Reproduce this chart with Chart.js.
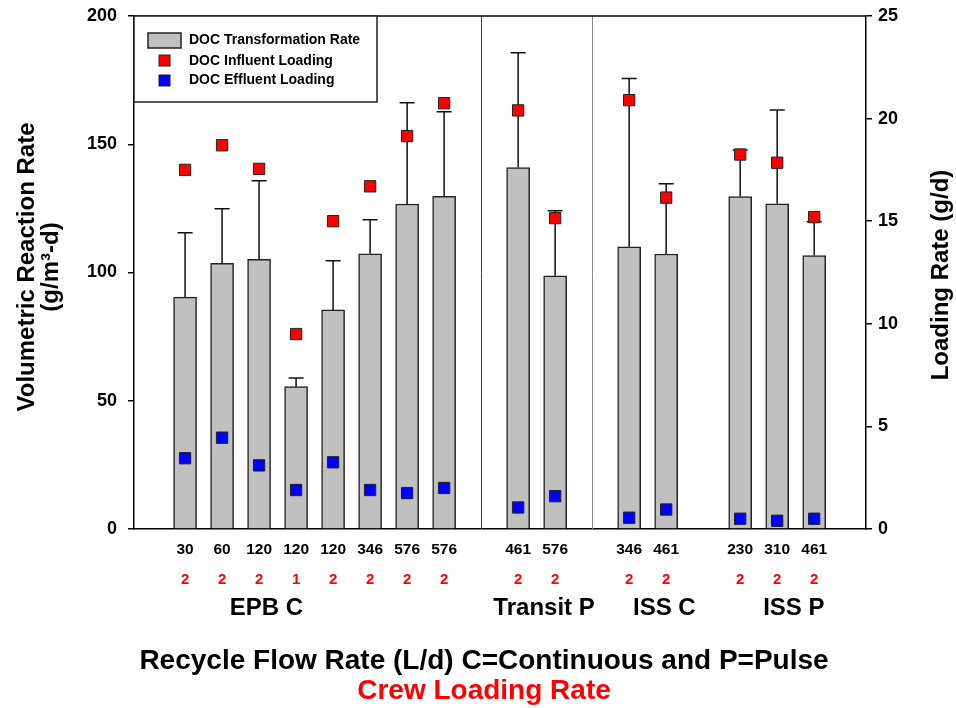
<!DOCTYPE html>
<html>
<head>
<meta charset="utf-8">
<script src="https://cdn.jsdelivr.net/npm/chart.js@4.4.0/dist/chart.umd.min.js"></script>
<style>
  body { margin: 0; background: #fff; }
  #wrap { width: 956px; height: 708px; position: relative; }
</style>
</head>
<body>
<div id="wrap"><canvas id="docChart"></canvas></div>
<script>
// recycle flow rate (L/d) per run, crew loading below it
const flowRates = ['30','60','120','120','120','346','576','576','461','576','346','461','230','310','461'];
const crewLoading = ['2','2','2','1','2','2','2','2','2','2','2','2','2','2','2'];
const groupNames = ['EPB C','Transit P','ISS C','ISS P'];
const groupSizes = [8, 2, 2, 3];

// volumetric reaction rate (g/m3-d) and upper error
const docRate = [90.4, 103.6, 105.1, 55.5, 85.4, 107.3, 126.7, 129.7, 140.9, 98.7, 110.0, 107.2, 129.6, 126.8, 106.6];
const docRateErr = [25.1, 21.3, 30.7, 3.4, 19.2, 13.3, 39.5, 33.0, 44.8, 25.4, 65.6, 27.4, 18.2, 36.6, 13.2];

// loading rate (g/d)
const influentLoading = [17.5, 18.7, 17.55, 9.5, 15.0, 16.7, 19.15, 20.75, 20.4, 15.15, 20.9, 16.15, 18.25, 17.85, 15.2];
const effluentLoading = [3.45, 4.45, 3.1, 1.9, 3.25, 1.9, 1.75, 2.0, 1.05, 1.6, 0.55, 0.95, 0.5, 0.4, 0.5];

const leftTicks = [0, 50, 100, 150, 200];
const rightTicks = [0, 5, 10, 15, 20, 25];

// slot of each run on the x axis: one empty slot between groups
const slots = [];
const groupStart = [];
let s = 0;
groupSizes.forEach((n, g) => {
  groupStart.push(s);
  for (let i = 0; i < n; i++) slots.push(s++);
  s++;
});
// group label centers, in slot units (as placed in the original)
const groupLabelAt = [2.2, 9.7, 12.95, 16.45];

const FONT = '"Liberation Sans", Arial, sans-serif';
const bars = docRate.map((v, i) => ({ x: slots[i], y: v }));
const red = influentLoading.map((v, i) => ({ x: slots[i], y: v }));
const blue = effluentLoading.map((v, i) => ({ x: slots[i], y: v }));

const decor = {
  id: 'decor',
  afterDatasetDraw(chart, args) {
    if (args.index !== 0) return;
    const ctx = chart.ctx, x = chart.scales.x, y = chart.scales.y;
    ctx.save();
    ctx.strokeStyle = '#111';
    ctx.lineWidth = 1.5;
    docRate.forEach((v, i) => {
      const px = x.getPixelForValue(slots[i]);
      const top = y.getPixelForValue(v);
      const cap = y.getPixelForValue(v + docRateErr[i]);
      ctx.beginPath();
      ctx.moveTo(px, top); ctx.lineTo(px, cap);
      ctx.moveTo(px - 7.5, cap); ctx.lineTo(px + 7.5, cap);
      ctx.stroke();
    });
    ctx.restore();
  },
  beforeDatasetsDraw(chart) {
    const ctx = chart.ctx, a = chart.chartArea, x = chart.scales.x;
    ctx.save();
    // separators between groups
    [1, 2].forEach((g, k) => {
      const px = Math.round(x.getPixelForValue(groupStart[g] - 1)) + 0.5;
      ctx.strokeStyle = k === 0 ? '#444' : '#888';
      ctx.lineWidth = 1;
      ctx.beginPath(); ctx.moveTo(px, a.top); ctx.lineTo(px, a.bottom); ctx.stroke();
    });
    ctx.restore();
  },
  afterDraw(chart) {
    const ctx = chart.ctx, a = chart.chartArea, x = chart.scales.x;
    ctx.save();
    // top frame line
    ctx.strokeStyle = '#000';
    ctx.lineWidth = 1.5;
    ctx.beginPath(); ctx.moveTo(a.left, a.top); ctx.lineTo(a.right, a.top); ctx.stroke();

    // legend box
    ctx.lineWidth = 1.5;
    ctx.strokeStyle = '#222';
    ctx.fillStyle = '#fff';
    ctx.beginPath(); ctx.rect(a.left, a.top, 243, 86); ctx.fill(); ctx.stroke();
    ctx.fillStyle = '#c0c0c0';
    ctx.fillRect(a.left + 14, a.top + 17, 33, 15);
    ctx.strokeRect(a.left + 14, a.top + 17, 33, 15);
    ctx.lineWidth = 1;
    ctx.fillStyle = '#ff0000';
    ctx.fillRect(a.left + 25, a.top + 39, 11, 11);
    ctx.strokeRect(a.left + 25, a.top + 39, 11, 11);
    ctx.fillStyle = '#0000ff';
    ctx.fillRect(a.left + 25, a.top + 59, 11, 11);
    ctx.strokeRect(a.left + 25, a.top + 59, 11, 11);
    ctx.fillStyle = '#000';
    ctx.font = 'bold 14px ' + FONT;
    ctx.textBaseline = 'middle';
    ctx.textAlign = 'left';
    ctx.fillText('DOC Transformation Rate', a.left + 55, a.top + 24);
    ctx.fillText('DOC Influent Loading', a.left + 55, a.top + 45);
    ctx.fillText('DOC Effluent Loading', a.left + 55, a.top + 64);

    // category labels
    ctx.textAlign = 'center';
    flowRates.forEach((f, i) => {
      const px = x.getPixelForValue(slots[i]);
      ctx.fillStyle = '#000';
      ctx.font = 'bold 15.5px ' + FONT;
      ctx.fillText(f, px, a.bottom + 21);
      ctx.fillStyle = '#ff0000';
      ctx.font = 'bold 15px ' + FONT;
      ctx.fillText(crewLoading[i], px, a.bottom + 51);
    });
    ctx.fillStyle = '#000';
    ctx.font = 'bold 24px ' + FONT;
    groupNames.forEach((g, k) => {
      ctx.fillText(g, x.getPixelForValue(groupLabelAt[k]), a.bottom + 79);
    });

    // x axis title
    ctx.font = 'bold 28px ' + FONT;
    ctx.fillStyle = '#000';
    ctx.fillText('Recycle Flow Rate (L/d) C=Continuous and P=Pulse', 484, 661);
    ctx.fillStyle = '#ff0000';
    ctx.fillText('Crew Loading Rate', 484, 691);

    // y axis titles
    ctx.fillStyle = '#000';
    ctx.font = 'bold 24px ' + FONT;
    ctx.textBaseline = 'alphabetic';
    ctx.save();
    ctx.translate(34, 267);
    ctx.rotate(-Math.PI / 2);
    ctx.fillText('Volumetric Reaction Rate', 0, 0);
    ctx.fillText('(g/m\u00b3-d)', 0, 24);
    ctx.restore();
    ctx.save();
    ctx.translate(948, 275);
    ctx.rotate(-Math.PI / 2);
    ctx.fillText('Loading Rate (g/d)', 0, 0);
    ctx.restore();
    ctx.restore();
  }
};

// fixed axis widths, no extra padding for the end tick labels
function fitY(width) {
  return (sc) => {
    sc.width = width;
    sc.paddingTop = 0;
    sc.paddingBottom = 0;
  };
}

const ctx = document.getElementById('docChart');
new Chart(ctx, {
  type: 'bar',
  data: {
    datasets: [
      { type: 'bar', label: 'DOC Transformation Rate', data: bars, yAxisID: 'y',
        backgroundColor: '#c0c0c0', borderColor: '#222', borderWidth: 1.5, barThickness: 23, order: 3 },
      { type: 'scatter', label: 'DOC Influent Loading', data: red, yAxisID: 'y2',
        pointStyle: 'rect', pointRadius: 8, pointHoverRadius: 8,
        backgroundColor: '#ff0000', borderColor: '#222', borderWidth: 1, order: 1 },
      { type: 'scatter', label: 'DOC Effluent Loading', data: blue, yAxisID: 'y2',
        pointStyle: 'rect', pointRadius: 8, pointHoverRadius: 8,
        backgroundColor: '#0000ff', borderColor: '#222', borderWidth: 1, order: 2 }
    ]
  },
  options: {
    responsive: true,
    maintainAspectRatio: false,
    animation: false,
    layout: { padding: { top: 16, left: 0, right: 0, bottom: 0 } },
    plugins: { legend: { display: false }, tooltip: { enabled: false } },
    scales: {
      x: {
        type: 'linear', min: -1.38, max: 18.4, offset: false,
        ticks: { display: false },
        grid: { display: false },
        border: { display: true, color: '#000', width: 1.5 },
        afterFit: (sc) => { sc.height = 179; }
      },
      y: {
        position: 'left', min: 0, max: 200,
        afterBuildTicks: (sc) => { sc.ticks = leftTicks.map(v => ({ value: v })); },
        ticks: { color: '#000', font: { family: FONT, size: 18, weight: 'bold' }, padding: 11 },
        grid: { drawOnChartArea: false, color: '#000', lineWidth: 1.5, tickLength: 6 },
        border: { display: true, color: '#000', width: 1.5 },
        afterFit: fitY(134)
      },
      y2: {
        position: 'right', min: 0, max: 25,
        afterBuildTicks: (sc) => { sc.ticks = rightTicks.map(v => ({ value: v })); },
        ticks: { color: '#000', font: { family: FONT, size: 18, weight: 'bold' }, padding: 6 },
        grid: { drawOnChartArea: false, color: '#000', lineWidth: 1.5, tickLength: 6 },
        border: { display: true, color: '#000', width: 1.5 },
        afterFit: fitY(90)
      }
    }
  },
  plugins: [decor]
});
</script>
</body>
</html>
